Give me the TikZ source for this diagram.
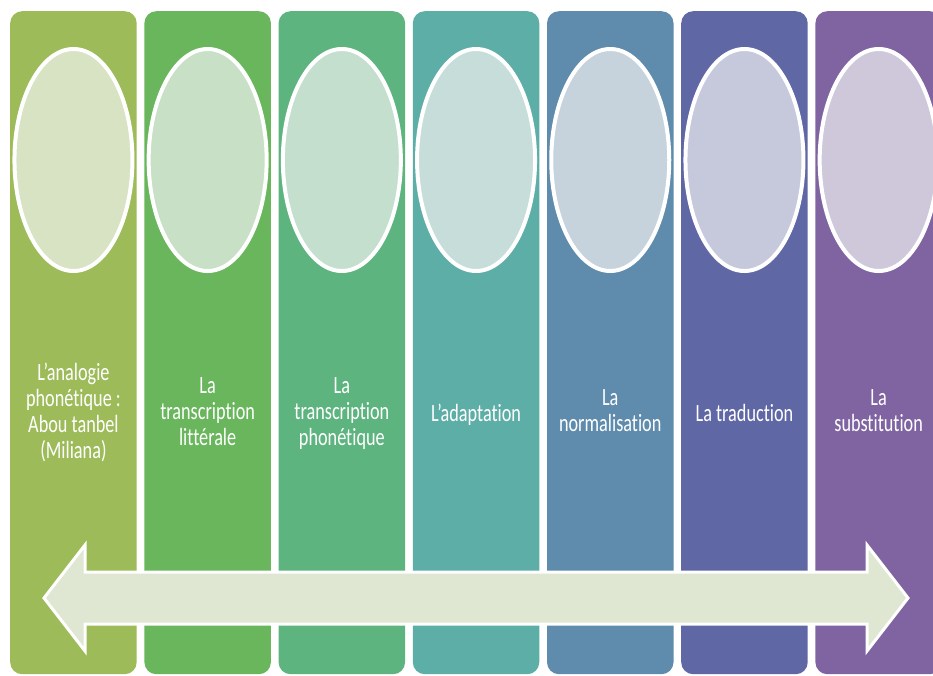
\documentclass[tikz,border=0pt]{standalone}
\usepackage{fontspec}
\setmainfont[Ligatures=NoCommon]{Carlito}
\usetikzlibrary{shapes.geometric,calc}
\definecolor{c1}{HTML}{9DBB59}
\definecolor{c2}{HTML}{69B65D}
\definecolor{c3}{HTML}{5DB47F}
\definecolor{c4}{HTML}{5EAEA8}
\definecolor{c5}{HTML}{5F8BAD}
\definecolor{c6}{HTML}{6067A5}
\definecolor{c7}{HTML}{8064A2}
\definecolor{e1}{HTML}{D8E3C4}
\definecolor{e2}{HTML}{C8E0C5}
\definecolor{e3}{HTML}{C5DFCF}
\definecolor{e4}{HTML}{C6DDDA}
\definecolor{e5}{HTML}{C6D3DC}
\definecolor{e6}{HTML}{C6C8DB}
\definecolor{e7}{HTML}{CFC8DA}
\definecolor{arrowfill}{HTML}{DFE7D3}
\newcommand{\narrowtext}[1]{\scalebox{0.735}[1]{\begin{tabular}{@{}c@{}}#1\end{tabular}}}
\begin{document}
\begin{tikzpicture}[x=1pt,y=-1pt,
  colbox/.style={rectangle, rounded corners=12pt, minimum width=126.5pt, minimum height=663pt, inner sep=0pt, anchor=north west, draw=none},
  oval/.style={ellipse, draw=white, line width=4pt, minimum width=118pt, minimum height=222pt, inner sep=0pt},
  lbl/.style={text=white, inner sep=0pt, font=\fontsize{24.8}{26}\selectfont},
  bigarrow/.style={fill=arrowfill, draw=white, line width=3pt, line join=miter}]
\useasboundingbox (0,0) rectangle (933,675);
\fill[white] (0,0) rectangle (933,675);
\clip (0,0) rectangle (933,675);
\foreach \i in {1,...,7}{
  \pgfmathsetmacro{\xl}{10+134.2*(\i-1)}
  \node[colbox, fill=c\i] (col\i) at (\xl,11) {};
  \node[oval, fill=e\i] (ov\i) at ($(col\i.north)+(0,149)$) {};
}
\node[lbl] (t1) at (col1.center |- 0,414) {\narrowtext{L’analogie\\phonétique :\\Abou tanbel\\(Miliana)}};
\node[lbl] (t2) at (col2.center |- 0,414) {\narrowtext{La\\transcription\\littérale}};
\node[lbl] (t3) at (col3.center |- 0,414) {\narrowtext{La\\transcription\\phonétique}};
\node[lbl] (t4) at (col4.center |- 0,416) {\narrowtext{L’adaptation}};
\node[lbl] (t5) at (col5.center |- 0,413) {\narrowtext{La\\normalisation}};
\node[lbl] (t6) at (col6.center |- 0,416) {\narrowtext{La traduction}};
\node[lbl] (t7) at (col7.center |- 0,413) {\narrowtext{La\\substitution}};
\coordinate (tipL) at (44,598);
\coordinate (tipR) at (908,598);
\draw[bigarrow] (tipL) -- (85,545) -- (85,572) -- (867,572) -- (867,545) -- (tipR)
  -- (867,651) -- (867,624) -- (85,624) -- (85,651) -- cycle;
\end{tikzpicture}
\end{document}
